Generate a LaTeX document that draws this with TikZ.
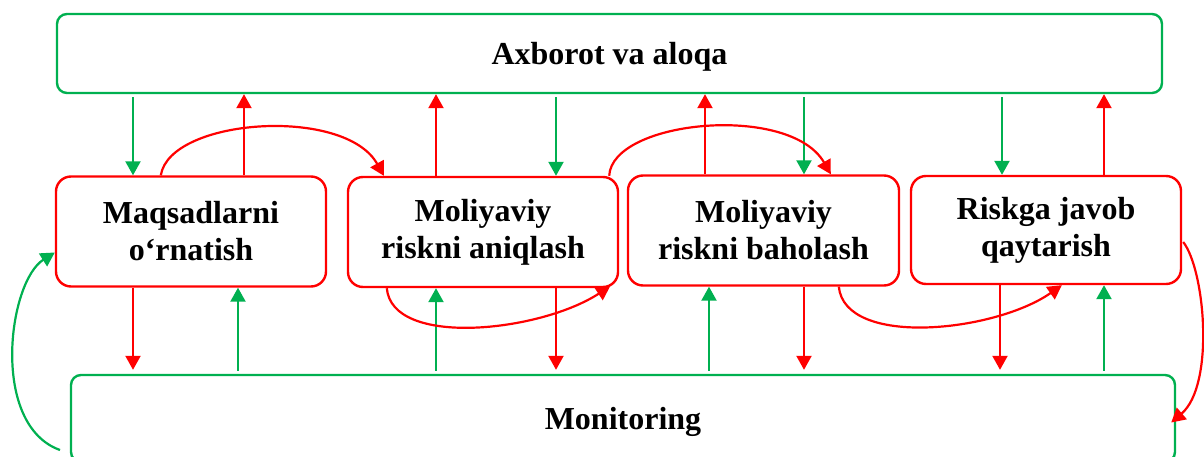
\documentclass[tikz,border=0pt]{standalone}
\usepackage{fontspec}
\setmainfont{Liberation Serif}
\usetikzlibrary{arrows.meta,calc}
\definecolor{cgreen}{RGB}{0,176,80}
\definecolor{cred}{RGB}{255,0,0}
\begin{document}
\begin{tikzpicture}[x=1pt,y=-1pt,
  lbl/.style={font=\fontsize{32}{37}\selectfont\bfseries, align=center, inner sep=0pt},
  greenbox/.style={lbl, draw=cgreen, line width=2.4pt, rounded corners=10pt, text depth=0pt},
  stage/.style={lbl, draw=cred, line width=2.4pt, rounded corners=15pt, minimum width=270pt, minimum height=110pt},
  garr/.style={draw=cgreen, line width=2.2pt, -{Triangle[length=14pt,width=15pt]}},
  rarr/.style={draw=cred, line width=2.2pt, -{Triangle[length=14pt,width=15pt]}}
]
\useasboundingbox (0,0) rectangle (1204,457);
\fill[white] (0,0) rectangle (1204,457);

\node[greenbox, minimum width=1105pt, minimum height=79pt, text height=23pt] (top) at (609.5,53.5) {Axborot va aloqa};
\node[greenbox, minimum width=1104pt, minimum height=87pt, text height=21pt] (mon) at (623,418.5) {Monitoring};

\node[stage] (b1) at (191,231.5) {Maqsadlarni\\o‘rnatish};
\node[stage] (b2) at (483,232) {Moliyaviy\\riskni aniqlash};
\node[stage, minimum width=271pt] (b3) at (763.5,230.5) {Moliyaviy\\riskni baholash};
\node[stage, minimum height=108pt] (b4) at (1046,230) {Riskga javob\\qaytarish};

% x positions of the vertical connectors
\coordinate (xa) at (133,0);
\coordinate (xb) at (244,0);
\coordinate (xc) at (238,0);
\coordinate (xd) at (436,0);
\coordinate (xe) at (556,0);
\coordinate (xf) at (705,0);
\coordinate (xg) at (709,0);
\coordinate (xh) at (804,0);
\coordinate (xi) at (1002,0);
\coordinate (xj) at (1000,0);
\coordinate (xk) at (1104,0);

% top box -> stages
\draw[garr, shorten <=3pt] (top.south -| xa) -- (b1.north -| xa);
\draw[garr, shorten <=3pt] (top.south -| xe) -- (b2.north -| xe);
\draw[garr, shorten <=3pt] (top.south -| xh) -- (b3.north -| xh);
\draw[garr, shorten <=3pt] (top.south -| xi) -- (b4.north -| xi);
% stages -> top box
\draw[rarr] (b1.north -| xb) -- (top.south -| xb);
\draw[rarr] (b2.north -| xd) -- (top.south -| xd);
\draw[rarr] (b3.north -| xf) -- (top.south -| xf);
\draw[rarr] (b4.north -| xk) -- (top.south -| xk);
% stages -> monitoring
\draw[rarr, shorten >=4pt] (b1.south -| xa) -- (mon.north -| xa);
\draw[rarr, shorten >=4pt] (b2.south -| xe) -- (mon.north -| xe);
\draw[rarr, shorten >=4pt] (b3.south -| xh) -- (mon.north -| xh);
\draw[rarr, shorten >=4pt] (b4.south -| xj) -- (mon.north -| xj);
% monitoring -> stages
\draw[garr, shorten <=3pt] (mon.north -| xc) -- (b1.south -| xc);
\draw[garr, shorten <=3pt] (mon.north -| xd) -- (b2.south -| xd);
\draw[garr, shorten <=3pt] (mon.north -| xg) -- (b3.south -| xg);
\draw[garr, shorten <=3pt] (mon.north -| xk) -- (b4.south -| xk);

% curved red connectors
\draw[rarr] ($(b1.north west)+(106,0)$) .. controls (170,118) and (345,106) .. ($(b2.north west)+(37,0)$);
\draw[rarr] ($(b2.south west)+(40,0)$) .. controls (392,348) and (540,332) .. ($(b2.south east)+(-9,-2)$);
\draw[rarr] ($(b2.north east)+(-10,0)$) .. controls (612,120) and (790,103) .. ($(b3.north west)+(204,0)$);
\draw[rarr] ($(b3.south west)+(212,0)$) .. controls (845,348) and (995,332) .. ($(b4.south west)+(152,0)$);
\draw[rarr] ($(b4.east)+(1,12)$) .. controls (1205,270) and (1215,385) .. ($(mon.east)+(-5,4)$);

% green feedback curve
\coordinate (gs) at (60,450);
\draw[garr] (gs) .. controls (-10,425) and (8,282) .. ($(b1.west)+(0,21)$);
\end{tikzpicture}
\end{document}
